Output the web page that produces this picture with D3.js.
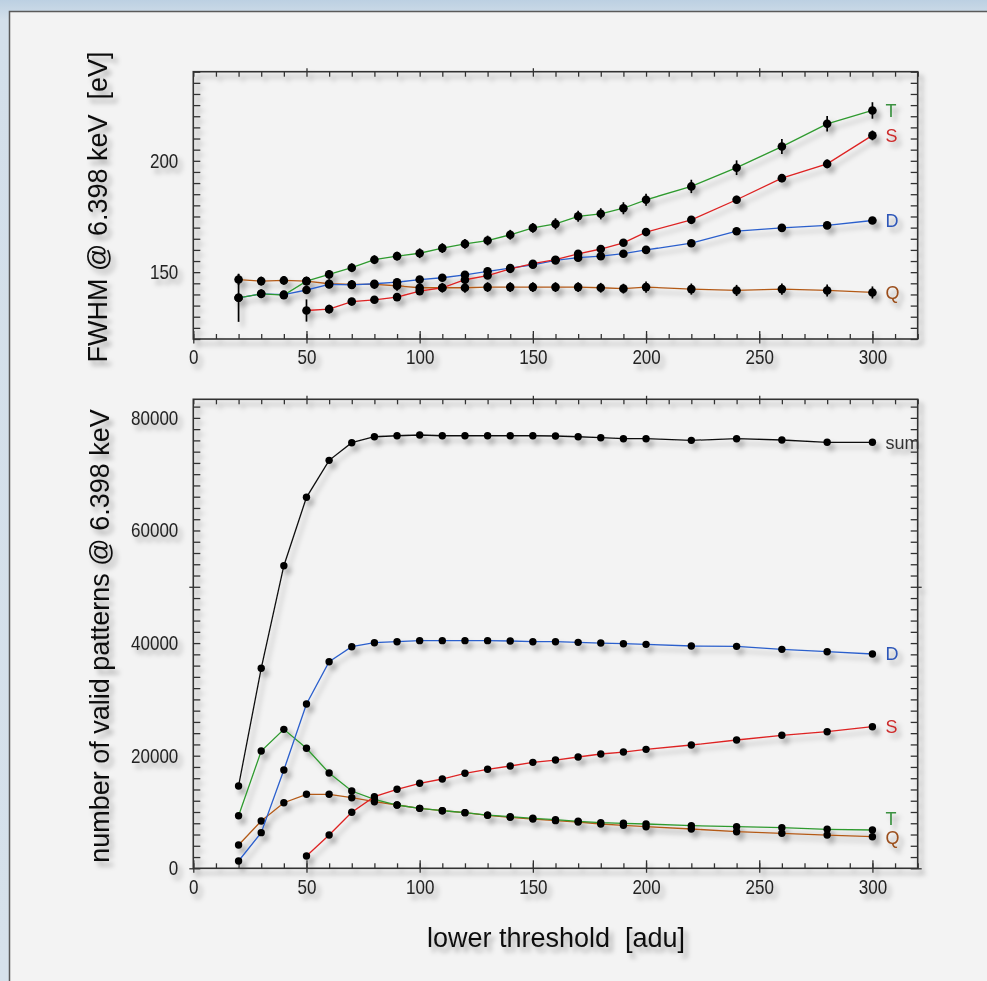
<!DOCTYPE html>
<html>
<head>
<meta charset="utf-8">
<script src="https://cdn.jsdelivr.net/npm/d3@7"></script>
<style>
  body { margin: 0; background: #f3f3f3; }
  svg { display: block; }
  .tick text { font-family: "Liberation Sans", Arial, sans-serif; font-size: 20px; fill: #222; }
  .aText { font-family: "Liberation Sans", Arial, sans-serif; font-size: 27px; fill: #111; white-space: pre; }
  .sLabel { font-family: "Liberation Sans", Arial, sans-serif; font-size: 18px; }
</style>
</head>
<body>
<div id="chart"></div>
<script>
// lower threshold [adu]
var thresholds = [20, 30, 40, 50, 60, 70, 80, 90, 100, 110, 120, 130, 140, 150, 160, 170, 180, 190, 200, 220, 240, 260, 280, 300];

// FWHM @ 6.398 keV [eV] and error bars
var fwhmT = [138.5, 140.3, 139.7, 146, 149, 152, 155.6, 157.2, 158.5, 160.8, 162.7, 164.2, 166.8, 169.9, 171.7, 175.1, 176.2, 178.7, 182.5, 188.5, 196.9, 206.4, 216.6, 222.6];
var fwhmS = [null, null, null, 132.8, 133.4, 136.8, 137.6, 138.8, 141.5, 143, 146.6, 148.5, 151.5, 153.8, 155.6, 158.2, 160.4, 163.2, 168, 173.5, 182.5, 192.2, 198.6, 211.4];
var fwhmD = [138.5, 140.3, 139.9, 142, 144.5, 144.3, 144.8, 145.5, 146.7, 147.5, 148.8, 150.4, 151.8, 153.3, 155.3, 156.5, 157.2, 158.3, 160, 163, 168.4, 169.9, 171, 173.2];
var fwhmQ = [146.7, 146, 146.3, 146, 144.8, 144.5, 144.5, 143.9, 143, 143, 143, 143.3, 143.3, 143.3, 143.3, 143.3, 143, 142.6, 143.3, 142.4, 141.8, 142.4, 141.8, 140.9];

var errT = [10.8, 2, 1.5, 1.5, 2, 2, 2, 2, 2.2, 2.2, 2.2, 2.2, 2.2, 2.2, 2.5, 2.5, 2.5, 2.7, 2.7, 3, 3.3, 3.4, 3.5, 3.7];
var errS = [null, null, null, 5, 2, 1.5, 1.2, 1.2, 1.2, 1.2, 1.5, 1.5, 1.5, 1.5, 1.5, 1.5, 1.5, 1.5, 1.7, 1.7, 1.8, 1.8, 2, 2.2];
var errD = [0.8, 0.8, 0.8, 0.8, 0.8, 0.8, 0.8, 0.8, 0.8, 0.8, 0.8, 0.8, 0.8, 0.8, 0.8, 0.8, 0.8, 0.8, 0.8, 0.8, 0.8, 0.8, 0.8, 0.8];
var errQ = [2.5, 2, 2, 2, 2, 2, 2, 2.2, 2.2, 2.2, 2.2, 2.2, 2.2, 2.2, 2.2, 2.2, 2.2, 2.2, 2.5, 2.5, 2.5, 2.5, 2.7, 2.7];

// number of valid patterns @ 6.398 keV
var countSum = [14620, 35520, 53740, 65890, 72460, 75590, 76650, 76830, 76960, 76830, 76830, 76830, 76830, 76830, 76780, 76650, 76480, 76300, 76300, 76010, 76300, 76070, 75660, 75660];
var countD = [1300, 6330, 17460, 29180, 36690, 39360, 40070, 40250, 40430, 40430, 40430, 40430, 40370, 40250, 40250, 40130, 40010, 39890, 39780, 39480, 39420, 38890, 38470, 38060];
var countS = [null, null, null, 2180, 5910, 9950, 12720, 14030, 15100, 15860, 16870, 17580, 18170, 18820, 19230, 19770, 20300, 20650, 21130, 21900, 22790, 23620, 24260, 25150];
var countT = [9340, 20830, 24680, 21310, 16920, 13730, 12250, 11240, 10650, 10230, 9880, 9450, 9170, 8880, 8640, 8350, 8100, 7990, 7870, 7570, 7390, 7210, 6930, 6800];
var countQ = [4140, 8400, 11650, 13140, 13140, 12540, 11830, 11240, 10650, 10230, 9880, 9410, 9060, 8760, 8460, 8220, 7870, 7640, 7390, 6980, 6500, 6220, 5910, 5610];

var xTicks = [0, 50, 100, 150, 200, 250, 300];
var fwhmTicks = [150, 200];
var countTicks = [0, 20000, 40000, 60000, 80000];

var svgWidth = 987;
var svgHeight = 981;

var svg = d3.select("#chart")
  .append("svg")
  .attr("width", svgWidth)
  .attr("height", svgHeight);

var defs = svg.append("defs");
var grad = defs.append("linearGradient").attr("id", "band").attr("x1", 0).attr("y1", 0).attr("x2", 0).attr("y2", 1);
grad.append("stop").attr("offset", "0").attr("stop-color", "#bcd0e2");
grad.append("stop").attr("offset", "0.02").attr("stop-color", "#d3dfea");
grad.append("stop").attr("offset", "1").attr("stop-color", "#d6e1eb");

defs.append("filter")
  .attr("id", "shadow")
  .attr("x", "-5%").attr("y", "-5%").attr("width", "115%").attr("height", "115%")
  .append("feDropShadow")
  .attr("dx", 4).attr("dy", 5)
  .attr("stdDeviation", 2.5)
  .attr("flood-color", "#000")
  .attr("flood-opacity", 0.3);

// window frame
svg.append("rect").attr("width", svgWidth).attr("height", svgHeight).attr("fill", "url(#band)");
svg.append("rect")
  .attr("x", 9.5).attr("y", 11.5)
  .attr("width", svgWidth).attr("height", svgHeight)
  .attr("fill", "#f3f3f3")
  .attr("stroke", "#5a5a5a")
  .attr("stroke-width", 1.5);

var root = svg.append("g").attr("filter", "url(#shadow)");

var xLeft = 193.3, xRight = 917.7;
var squeeze = 0.85; // tick labels are set in a narrow face

var xScale = d3.scaleLinear().domain([0, 320]).range([xLeft, xRight]);
var yTop = d3.scaleLinear().domain([120, 240]).range([339, 71.7]);
var yBot = d3.scaleLinear().domain([0, 83300]).range([868.3, 399.3]);

function drawFrame(g, yScale, minorY, majorY, labelsY, topMajor, padX) {
  var y0 = yScale.range()[0], y1 = yScale.range()[1];
  var minorX = d3.range(0, 321, 10);
  var tickG = g.append("g").attr("class", "frameTicks");

  // bottom
  tickG.append("g").attr("transform", `translate(0, ${y0})`)
    .call(d3.axisBottom(xScale).tickValues(minorX).tickSizeInner(-5).tickSizeOuter(0).tickFormat(""));
  tickG.append("g").attr("transform", `translate(0, ${y0})`)
    .call(d3.axisBottom(xScale).tickValues(xTicks).tickSizeInner(-8).tickSizeOuter(0).tickFormat(""));
  tickG.append("g").attr("transform", `translate(0, ${y0})`)
    .call(d3.axisBottom(xScale).tickValues(xTicks).tickSizeInner(4.5).tickSizeOuter(0).tickFormat(""));
  tickG.append("g").attr("transform", `translate(0, ${y0})`)
    .call(d3.axisBottom(xScale).tickValues(xTicks).tickSize(0).tickPadding(padX))
    .selectAll("text").attr("transform", `scale(${squeeze},1)`);

  // top
  tickG.append("g").attr("transform", `translate(0, ${y1})`)
    .call(d3.axisTop(xScale).tickValues(minorX).tickSizeInner(-5).tickSizeOuter(0).tickFormat(""));
  tickG.append("g").attr("transform", `translate(0, ${y1})`)
    .call(d3.axisTop(xScale).tickValues(topMajor).tickSizeInner(3.5).tickSizeOuter(0).tickFormat(""));

  // left and right
  [[d3.axisLeft, xLeft], [d3.axisRight, xRight]].forEach(function(side) {
    tickG.append("g").attr("transform", `translate(${side[1]}, 0)`)
      .call(side[0](yScale).tickValues(minorY).tickSizeInner(-7).tickSizeOuter(0).tickFormat(""));
    tickG.append("g").attr("transform", `translate(${side[1]}, 0)`)
      .call(side[0](yScale).tickValues(majorY).tickSizeInner(4).tickSizeOuter(0).tickFormat(""));
  });
  tickG.append("g").attr("transform", `translate(${xLeft}, 0)`)
    .call(d3.axisLeft(yScale).tickValues(labelsY).tickSize(0).tickPadding(15 / squeeze).tickFormat(d3.format("d")))
    .selectAll("text").attr("transform", `scale(${squeeze},1)`);

  tickG.selectAll(".domain").remove();
  tickG.selectAll("line").attr("stroke", "#333").attr("stroke-width", 1.3);

  g.append("rect")
    .attr("x", xLeft).attr("y", y1)
    .attr("width", xRight - xLeft).attr("height", y0 - y1)
    .attr("fill", "none")
    .attr("stroke", "#333")
    .attr("stroke-width", 1.6);
}

function drawSeries(g, yScale, values, errs, color, r) {
  var pts = thresholds.map(function(t, i) {
    return { x: t, y: values[i], e: errs ? errs[i] : null };
  }).filter(d => d.y !== null);

  var line = d3.line().x(d => xScale(d.x)).y(d => yScale(d.y));
  g.append("path")
    .datum(pts)
    .attr("d", line)
    .attr("fill", "none")
    .attr("stroke", color)
    .attr("stroke-width", 1.3);

  if (errs) {
    g.selectAll(null)
      .data(pts)
      .enter()
      .append("line")
      .attr("x1", d => xScale(d.x))
      .attr("x2", d => xScale(d.x))
      .attr("y1", d => yScale(d.y - d.e))
      .attr("y2", d => yScale(d.y + d.e))
      .attr("stroke", "#000")
      .attr("stroke-width", 1.7);
  }

  g.selectAll(null)
    .data(pts)
    .enter()
    .append("circle")
    .attr("cx", d => xScale(d.x))
    .attr("cy", d => yScale(d.y))
    .attr("r", r)
    .attr("fill", "#000");
}

function seriesLabel(g, yScale, values, text, color, dy) {
  var last = values.length - 1;
  g.append("text")
    .attr("class", "sLabel")
    .attr("x", xScale(thresholds[last]) + 13)
    .attr("y", yScale(values[last]) + dy)
    .attr("dy", "0.36em")
    .attr("fill", color)
    .text(text);
}

var cT = "#2f9a2f", cS = "#dd2222", cD = "#2b5fcc", cQ = "#b35a18";
var lT = "#3a9140", lS = "#cc2b2b", lD = "#2d56b8", lQ = "#9a4d1a";

// upper panel: FWHM
var topPanel = root.append("g");
drawFrame(topPanel, yTop, d3.range(120, 241, 5), [], fwhmTicks, [50, 150, 250], 11);
drawSeries(topPanel, yTop, fwhmQ, errQ, cQ, 4.3);
drawSeries(topPanel, yTop, fwhmD, errD, cD, 4.3);
drawSeries(topPanel, yTop, fwhmS, errS, cS, 4.3);
drawSeries(topPanel, yTop, fwhmT, errT, cT, 4.3);
seriesLabel(topPanel, yTop, fwhmT, "T", lT, 0);
seriesLabel(topPanel, yTop, fwhmS, "S", lS, 0);
seriesLabel(topPanel, yTop, fwhmD, "D", lD, 0);
seriesLabel(topPanel, yTop, fwhmQ, "Q", lQ, 0);

// lower panel: number of valid patterns
var botPanel = root.append("g");
drawFrame(botPanel, yBot, d3.range(0, 83300, 2000), [0, 50000], countTicks, [50, 150, 200, 250], 12);
drawSeries(botPanel, yBot, countQ, null, cQ, 3.7);
drawSeries(botPanel, yBot, countT, null, cT, 3.7);
drawSeries(botPanel, yBot, countS, null, cS, 3.7);
drawSeries(botPanel, yBot, countD, null, cD, 3.7);
drawSeries(botPanel, yBot, countSum, null, "#111", 3.7);
seriesLabel(botPanel, yBot, countSum, "sum", "#333", 0);
seriesLabel(botPanel, yBot, countD, "D", lD, 0);
seriesLabel(botPanel, yBot, countS, "S", lS, 0);
seriesLabel(botPanel, yBot, countT, "T", lT, -11);
seriesLabel(botPanel, yBot, countQ, "Q", lQ, 1);

// axis titles
root.append("text")
  .attr("class", "aText")
  .attr("text-anchor", "middle")
  .attr("x", 556)
  .attr("y", 947)
  .text("lower threshold  [adu]");

root.append("text")
  .attr("class", "aText")
  .attr("text-anchor", "middle")
  .attr("transform", "translate(107, 207) rotate(-90)")
  .text("FWHM @ 6.398 keV  [eV]");

root.append("text")
  .attr("class", "aText")
  .attr("text-anchor", "middle")
  .attr("transform", "translate(109, 636) rotate(-90)")
  .text("number of valid patterns @ 6.398 keV");
</script>
</body>
</html>
